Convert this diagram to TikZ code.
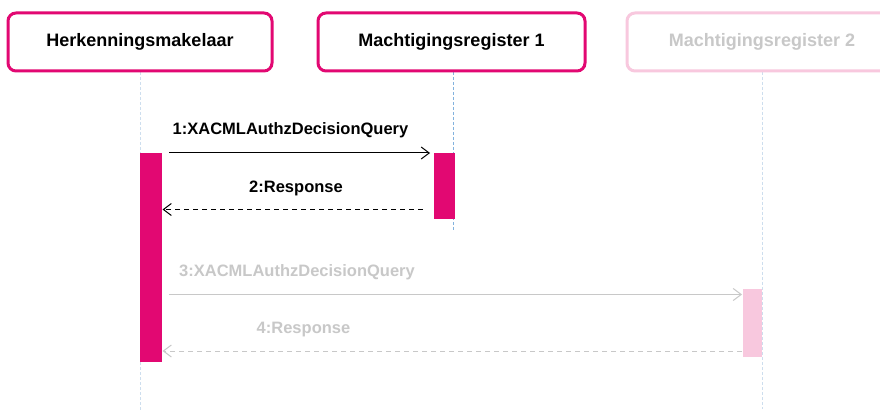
\documentclass[tikz,border=0pt]{standalone}
\usepackage{fontspec}
\setmainfont{Liberation Sans}
\usetikzlibrary{arrows.meta}
\definecolor{mag}{RGB}{226,8,114}
\definecolor{lpink}{RGB}{248,200,222}
\definecolor{lgrey}{RGB}{200,200,200}
\definecolor{lblue}{RGB}{130,178,222}
\definecolor{llblue}{RGB}{205,222,238}
\begin{document}
\begin{tikzpicture}[x=1pt,y=-1pt,
  actor/.style={draw=#1,line width=3pt,rounded corners=8pt,fill=white,minimum height=58pt,inner sep=0pt,font=\fontsize{18}{20}\selectfont\bfseries},
  life/.style={draw=#1,line width=1pt,dash pattern=on 3pt off 2pt},
  act/.style={fill=#1,draw=none},
  msg/.style={line width=1pt,draw=#1,-{Straight Barb[length=8pt,width=12pt,line width=1pt]}},
  lbl/.style={font=\fontsize{16.5}{18}\selectfont\bfseries,inner sep=0pt,text=#1}]
\useasboundingbox (0,0) rectangle (880,411);
\path[fill=white] (0,0) rectangle (880,411);
% lifelines
\coordinate (l1t) at (140,72); \coordinate (l1b) at (140,411);
\coordinate (l2t) at (453,72); \coordinate (l2b) at (453,230);
\coordinate (l3t) at (762,72); \coordinate (l3b) at (762,409);
\draw[life=llblue] (l1t) -- (l1b);
\draw[life=lblue] (l2t) -- (l2b);
\draw[life=llblue] (l3t) -- (l3b);
% actors
\node[actor=mag,minimum width=264pt] (a1) at (140,42) {Herkenningsmakelaar};
\node[actor=mag,minimum width=267pt] (a2) at (451.5,42) {Machtigingsregister 1};
\node[actor=lpink,minimum width=270pt,text=lgrey] (a3) at (762,42) {Machtigingsregister 2};
% activation bars
\path[act=mag] (140,153) rectangle (161.5,362);
\path[act=mag] (434,153) rectangle (455,219);
\path[act=lpink] (743,289) rectangle (762,357);
\coordinate (m1s) at (169,153); \coordinate (m1e) at (430,153);
\coordinate (m2s) at (423,209.5); \coordinate (m2e) at (162.5,209.5);
\coordinate (m3s) at (169,294.5); \coordinate (m3e) at (742,294.5);
\coordinate (m4s) at (742,351); \coordinate (m4e) at (162.5,351);
\draw[msg=black] (m1s) -- (m1e);
\draw[msg=black,dash pattern=on 5pt off 4pt] (m2s) -- (m2e);
\draw[msg=lgrey] (m3s) -- (m3e);
\draw[msg=lgrey,dash pattern=on 5pt off 4pt] (m4s) -- (m4e);
\node[lbl=black] (t1) at (290.5,130) {1:XACMLAuthzDecisionQuery};
\node[lbl=black] (t2) at (296,188) {2:Response};
\node[lbl=lgrey] (t3) at (297,272) {3:XACMLAuthzDecisionQuery};
\node[lbl=lgrey] (t4) at (303.5,330) {4:Response};
\end{tikzpicture}
\end{document}
